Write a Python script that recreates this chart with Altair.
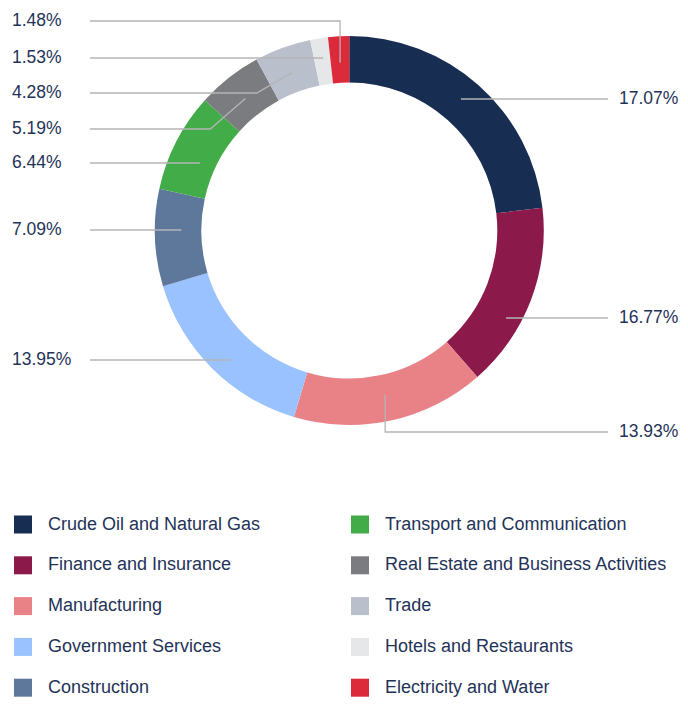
import math
import altair as alt
import pandas as pd

# ---------------- data ----------------
sectors = [
    "Crude Oil and Natural Gas",
    "Finance and Insurance",
    "Manufacturing",
    "Government Services",
    "Construction",
    "Transport and Communication",
    "Real Estate and Business Activities",
    "Trade",
    "Hotels and Restaurants",
    "Electricity and Water",
]
# slice shares as read from the drawn ring (percent of the full circle)
shares = [23.14, 15.42, 16.03, 15.78, 8.08, 8.22, 5.42, 4.69, 1.47, 1.75]
# printed labels
labels = ["17.07%", "16.77%", "13.93%", "13.95%", "7.09%", "6.44%", "5.19%", "4.28%", "1.53%", "1.48%"]
colors = ["#172d52", "#8b1a4a", "#e98287", "#99c2fe", "#5e789c",
          "#42ad48", "#7b7c80", "#b9bfcb", "#e6e7e9", "#dc2a3b"]

# ---------------- layout ----------------
W, H = 672, 690
CX, CY = 341.3, 222.5          # ring centre (plot coords)
R_IN, R_OUT = 148, 194.5
R_ANCHOR = 168
LABEL_Y = [91, 310, 424, 352, 222, 155, 121, 85, 50, 13]   # label rows (plot coords)
KIND = ["h", "h", "v", "h", "h", "h", "d", "d", "h", "v"]  # leader shape
LINE_END_L, LINE_END_R = 82, 600
TEXT_L, TEXT_R = 4, 611
TXT = "#1f3358"
FONT = "Liberation Sans"

total = sum(shares)
rows = []
pts = []
cum = 0.0
for i, (s, lab) in enumerate(zip(shares, labels)):
    a0 = cum / total * 360
    cum += s
    a1 = cum / total * 360
    mid = math.radians((a0 + a1) / 2)
    ax = CX + R_ANCHOR * math.sin(mid)
    ay = CY - R_ANCHOR * math.cos(mid)
    right = (a0 + a1) / 2 < 180
    ly = LABEL_Y[i]
    end = LINE_END_R if right else LINE_END_L
    if KIND[i] == "h":
        path = [(ax, ly), (end, ly)]
    elif KIND[i] == "v":
        path = [(ax, ay), (ax, ly), (end, ly)]
    else:
        path = [(ax, ay), (ax + (35 if right else -35), ly), (end, ly)]
    for k, (px, py) in enumerate(path):
        pts.append({"idx": i, "k": k, "px": px, "py": py})
    rows.append({"idx": i, "sector": sectors[i], "share": s, "label": lab,
                 "tx": TEXT_R if right else TEXT_L, "ty": ly})

df = pd.DataFrame(rows)
lines_df = pd.DataFrame(pts)

leg = pd.DataFrame({
    "idx": list(range(len(sectors))),
    "sector": sectors,
})
leg["col"] = leg["idx"] // 5
leg["row"] = leg["idx"] % 5
leg["sx"] = 15 + leg["col"] * 337
leg["tx"] = 40 + leg["col"] * 337
leg["ly"] = 516.5 + leg["row"] * 40.8

xs = alt.Scale(domain=[0, W], range=[0, W], nice=False, zero=False)
ys = alt.Scale(domain=[0, H], range=[0, H], nice=False, zero=False)
cscale = alt.Scale(domain=sectors, range=colors)

arcs = alt.Chart(df).mark_arc(innerRadius=R_IN, outerRadius=R_OUT).encode(
    theta=alt.Theta("share:Q", stack=True),
    color=alt.Color("sector:N", scale=cscale, legend=None),
    order=alt.Order("idx:Q"),
    x=alt.value(CX),
    y=alt.value(CY),
)

leaders = alt.Chart(lines_df).mark_line(color="#b4b4b4", strokeWidth=1.3).encode(
    x=alt.X("px:Q", scale=xs, axis=None),
    y=alt.Y("py:Q", scale=ys, axis=None),
    detail="idx:N",
    order="k:Q",
)

texts = alt.Chart(df).mark_text(align="left", baseline="middle", fontSize=17.5,
                                font=FONT, color=TXT).encode(
    x=alt.X("tx:Q", scale=xs, axis=None),
    y=alt.Y("ty:Q", scale=ys, axis=None),
    text="label:N",
)

leg_sq = alt.Chart(leg).mark_square(size=324, opacity=1).encode(
    x=alt.X("sx:Q", scale=xs, axis=None),
    y=alt.Y("ly:Q", scale=ys, axis=None),
    color=alt.Color("sector:N", scale=cscale, legend=None),
)

leg_tx = alt.Chart(leg).mark_text(align="left", baseline="middle", fontSize=18,
                                  font=FONT, color=TXT).encode(
    x=alt.X("tx:Q", scale=xs, axis=None),
    y=alt.Y("ly:Q", scale=ys, axis=None),
    text="sector:N",
)

chart = alt.layer(arcs, leaders, texts, leg_sq, leg_tx).properties(
    width=W, height=H, padding=0,
    autosize=alt.AutoSizeParams(type="none"),
).configure_view(stroke=None)

chart.save("out.html", embed_options={"renderer": "svg", "actions": False})
